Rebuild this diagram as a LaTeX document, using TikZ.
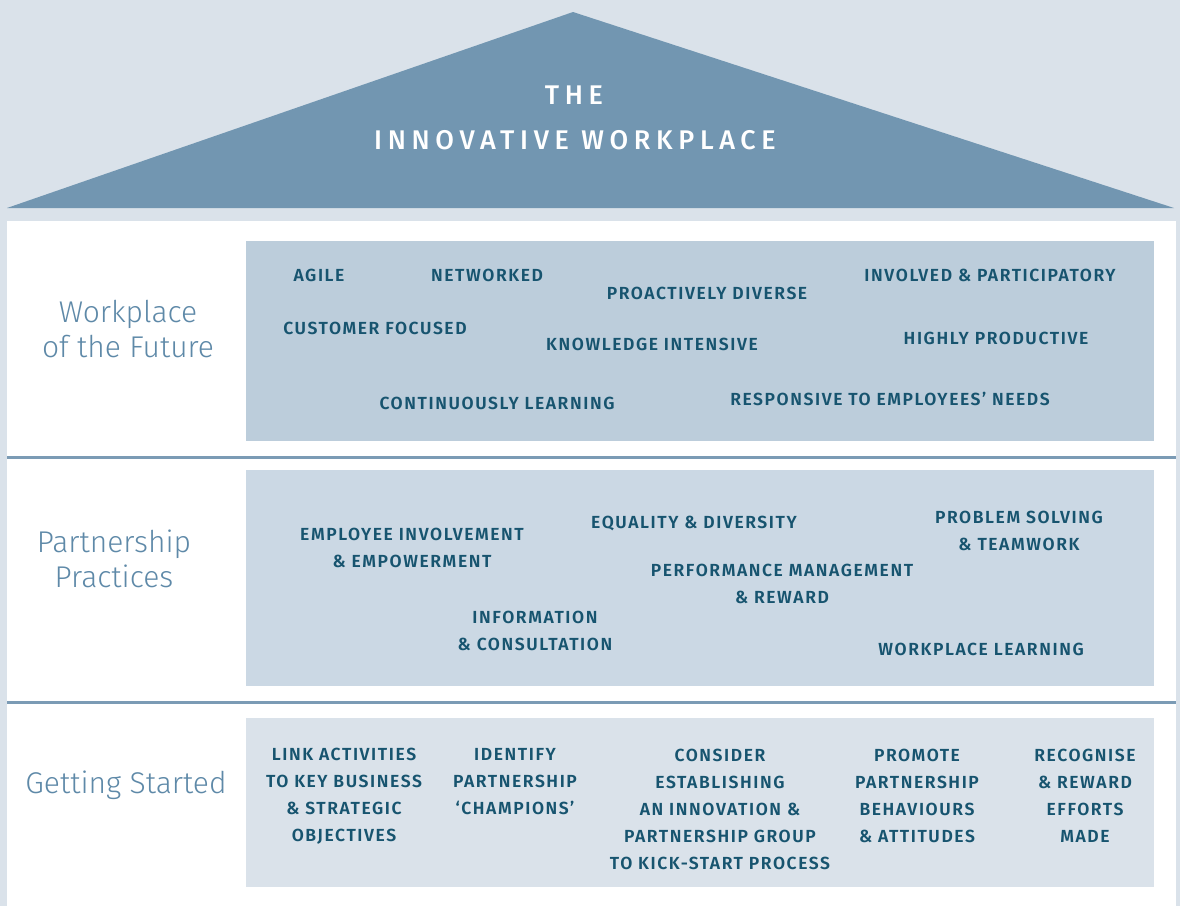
\documentclass[tikz,border=0pt]{standalone}
\usepackage{fontspec}
\setmainfont{Fira Sans}
\newfontfamily\itemfont{Fira Sans SemiBold}[LetterSpace=9]
\newfontfamily\rowfont{Fira Sans Light}
\newfontfamily\rooffont{Fira Sans Medium}[LetterSpace=21]
\definecolor{pale}{HTML}{DAE2EA}
\definecolor{roof}{HTML}{7296B1}
\definecolor{tierA}{HTML}{BCCDDB}
\definecolor{tierB}{HTML}{CBD8E4}
\definecolor{rule}{HTML}{7B9BB5}
\definecolor{rowblue}{HTML}{5E89A8}
\definecolor{ink}{HTML}{17546F}

\begin{document}
\begin{tikzpicture}[x=1pt,y=-1pt,inner sep=0pt,
  feature/.style={text=ink,align=center,font=\itemfont\fontsize{17.5}{27}\selectfont},
  rowname/.style={text=rowblue,align=center,font=\rowfont\fontsize{30}{35}\selectfont},
  rooftext/.style={text=white,font=\rooffont\fontsize{27}{45}\selectfont}]
	\fill[pale] (0,0) rectangle (1180,906);
	\useasboundingbox (0,0) rectangle (1180,906);
	\fill[roof] (7,208) -- (573,12) -- (1174,208) -- cycle;
	\fill[white] (7,221) rectangle (1176,906);
	\draw[rule,line width=3pt] (7,457) -- (1176,457) (7,702) -- (1176,702);
	\fill[tierA] (246,241) rectangle (1154,441);
	\fill[tierB] (246,470) rectangle (1154,686);
	\fill[pale] (246,718) rectangle (1154,887);

	\node[rooftext] (the) at (574,95) {THE};
	\node[rooftext] (innov) at (575,140) {INNOVATIVE WORKPLACE};

	\node[rowname] (future) at (128,329) {Workplace\\of the Future};
	\node[rowname] (practices) at (114,559) {Partnership\\Practices};
	\node[rowname] (started) at (126,785) {Getting Started};

	\node[feature] (agile) at (319,275) {AGILE};
	\node[feature] (networked) at (487,275) {NETWORKED};
	\node[feature] (diverse) at (707,293) {PROACTIVELY DIVERSE};
	\node[feature] (involved) at (990,275) {INVOLVED \& PARTICIPATORY};
	\node[feature] (customer) at (375,328) {CUSTOMER FOCUSED};
	\node[feature] (knowledge) at (652,344) {KNOWLEDGE INTENSIVE};
	\node[feature] (productive) at (996,338) {HIGHLY PRODUCTIVE};
	\node[feature] (learning) at (497,403) {CONTINUOUSLY LEARNING};
	\node[feature] (responsive) at (890,399) {RESPONSIVE TO EMPLOYEES’ NEEDS};

	\node[feature] (empower) at (412,548) {EMPLOYEE INVOLVEMENT\\\& EMPOWERMENT};
	\node[feature] (equality) at (694,523) {EQUALITY \& DIVERSITY};
	\node[feature] (teamwork) at (1019,531) {PROBLEM SOLVING\\\& TEAMWORK};
	\node[feature] (perform) at (782,584) {PERFORMANCE MANAGEMENT\\\& REWARD};
	\node[feature] (consult) at (535,631) {INFORMATION\\\& CONSULTATION};
	\node[feature] (wplearn) at (981,649) {WORKPLACE LEARNING};

	\node[feature] (link) at (344,796) {LINK ACTIVITIES\\TO KEY BUSINESS\\\& STRATEGIC\\OBJECTIVES};
	\node[feature] (identify) at (515,782) {IDENTIFY\\PARTNERSHIP\\‘CHAMPIONS’};
	\node[feature] (consider) at (720,809) {CONSIDER\\ESTABLISHING\\AN INNOVATION \&\\PARTNERSHIP GROUP\\TO KICK-START PROCESS};
	\node[feature] (promote) at (917,796) {PROMOTE\\PARTNERSHIP\\BEHAVIOURS\\\& ATTITUDES};
	\node[feature] (recognise) at (1085,796) {RECOGNISE\\\& REWARD\\EFFORTS\\MADE};
\end{tikzpicture}
\end{document}
